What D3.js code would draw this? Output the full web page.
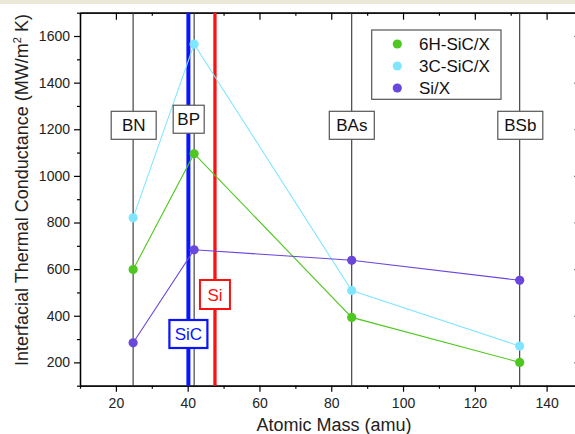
<!DOCTYPE html>
<html>
<head>
<meta charset="utf-8">
<script src="https://cdn.jsdelivr.net/npm/d3@7/dist/d3.min.js"></script>
<style>
  body { margin: 0; background: #fff; }
  svg { display: block; font-family: "Liberation Sans", Arial, sans-serif; }
  .tick text { font-size: 14px; fill: #222; }
  .axis-label { font-size: 18px; fill: #222; }
</style>
</head>
<body>
<svg width="575" height="434"></svg>
<script>
// compounds X and their atomic mass
const compounds = ['BN', 'BP', 'BAs', 'BSb'];
const atomicMass = [24.8, 41.8, 85.7, 132.5];

// interfacial thermal conductance (MW/m2 K)
const sic6h = [598, 1095, 393, 200];
const sic3c = [820, 1565, 508, 270];
const siX = [284, 683, 638, 552];

const seriesNames = ['6H-SiC/X', '3C-SiC/X', 'Si/X'];
const seriesColors = ['#4ec81e', '#80e6ff', '#6a47dc'];

// substrates
const substrates = ['SiC', 'Si'];
const substrateMass = [40.2, 47.6];
const substrateColors = ['#0a14ff', '#ff1010'];

const xTicks = [20, 40, 60, 80, 100, 120, 140];
const yTicks = [200, 400, 600, 800, 1000, 1200, 1400, 1600];

const svg = d3.select('svg');

const xScale = d3.scaleLinear().domain([10, 150]).range([80, 582.5]);
const yScale = d3.scaleLinear().domain([100, 1700]).range([385.7, 12.7]);

// top strip of the window
svg.append('rect').attr('x', 0).attr('y', 0).attr('width', 575).attr('height', 4)
    .attr('fill', '#ebe8d8');

const x0 = xScale.range()[0], x1 = xScale.range()[1];
const y0 = yScale.range()[0], y1 = yScale.range()[1];

// axes with minor ticks
const minorX = d3.range(10, 151, 10).filter(v => !xTicks.includes(v));
const minorY = d3.range(100, 1701, 100).filter(v => !yTicks.includes(v));

const drawAxis = (axis, transform) => {
    const g = svg.append('g').attr('transform', transform).call(axis);
    g.select('.domain').attr('stroke', '#000').attr('stroke-width', 1.3);
    g.selectAll('.tick line').attr('stroke', '#000').attr('stroke-width', 1.2);
    return g;
};
const fmt = d3.format('d');

drawAxis(d3.axisBottom(xScale).tickValues(xTicks).tickSize(6).tickPadding(6).tickFormat(fmt).tickSizeOuter(0), `translate(0,${y0})`);
drawAxis(d3.axisBottom(xScale).tickValues(minorX).tickSize(3).tickFormat('').tickSizeOuter(0), `translate(0,${y0})`);
drawAxis(d3.axisTop(xScale).tickValues(xTicks).tickSize(-7).tickFormat('').tickSizeOuter(0), `translate(0,${y1})`);
drawAxis(d3.axisTop(xScale).tickValues(minorX).tickSize(-3).tickFormat('').tickSizeOuter(0), `translate(0,${y1})`);
drawAxis(d3.axisLeft(yScale).tickValues(yTicks).tickSize(6).tickPadding(4).tickFormat(fmt).tickSizeOuter(0), `translate(${x0},0)`);
drawAxis(d3.axisLeft(yScale).tickValues(minorY).tickSize(3).tickFormat('').tickSizeOuter(0), `translate(${x0},0)`);
drawAxis(d3.axisRight(yScale).tickValues(yTicks).tickSize(-8).tickFormat('').tickSizeOuter(0), `translate(${x1},0)`);
drawAxis(d3.axisRight(yScale).tickValues(minorY).tickSize(-3).tickFormat('').tickSizeOuter(0), `translate(${x1},0)`);

// compound marker lines
svg.append('g').selectAll('line').data(atomicMass).enter().append('line')
    .attr('x1', d => xScale(d)).attr('x2', d => xScale(d))
    .attr('y1', y1).attr('y2', y0)
    .attr('stroke', '#333').attr('stroke-width', 1.1);

// substrate lines
svg.append('g').selectAll('line').data(substrateMass).enter().append('line')
    .attr('x1', d => xScale(d)).attr('x2', d => xScale(d))
    .attr('y1', y1).attr('y2', y0)
    .attr('stroke', (d, i) => substrateColors[i])
    .attr('stroke-width', (d, i) => i === 0 ? 4 : 3.3);

// data series
const allSeries = [sic6h, sic3c, siX];
const line = d3.line().x((d, i) => xScale(atomicMass[i])).y(d => yScale(d));

allSeries.forEach((values, s) => {
    svg.append('path').datum(values)
        .attr('d', line)
        .attr('fill', 'none')
        .attr('stroke', seriesColors[s])
        .attr('stroke-width', 1.1);
});
allSeries.forEach((values, s) => {
    svg.append('g').selectAll('circle').data(values).enter().append('circle')
        .attr('cx', (d, i) => xScale(atomicMass[i]))
        .attr('cy', d => yScale(d))
        .attr('r', 4.6)
        .attr('fill', seriesColors[s]);
});

// compound label boxes
const compoundBox = [
    { cx: 133.7, v: 1217, w: 45 },
    { cx: 188.7, v: 1243, w: 31 },
    { cx: 351.8, v: 1217, w: 45 },
    { cx: 520.3, v: 1217, w: 45 }
];
const labelBox = (cx, cy, w, h, text, color, strokeW) => {
    svg.append('rect')
        .attr('x', cx - w / 2).attr('y', cy - h / 2)
        .attr('width', w).attr('height', h)
        .attr('fill', '#fff').attr('stroke', color).attr('stroke-width', strokeW);
    svg.append('text')
        .attr('x', cx).attr('y', cy + 6)
        .attr('text-anchor', 'middle')
        .attr('font-size', 17)
        .attr('fill', color === '#555' ? '#111' : color)
        .text(text);
};
compounds.forEach((c, i) => {
    const b = compoundBox[i];
    labelBox(b.cx, yScale(b.v), b.w, 28, c, '#555', 1.2);
});
labelBox(xScale(substrateMass[1]), 294.5, 30, 29, substrates[1], substrateColors[1], 2);
labelBox(xScale(substrateMass[0]), 334, 38, 28, substrates[0], substrateColors[0], 2.2);

// legend
const legend = svg.append('g').attr('transform', 'translate(371.7,30)');
legend.append('rect').attr('width', 129.3).attr('height', 69.3)
    .attr('fill', '#fff').attr('stroke', '#555').attr('stroke-width', 1.2);
seriesNames.forEach((name, i) => {
    legend.append('circle').attr('cx', 25.6).attr('cy', 14 + i * 22).attr('r', 4.6)
        .attr('fill', seriesColors[i]);
    legend.append('text').attr('x', 47.3).attr('y', 20 + i * 22)
        .attr('font-size', 17).attr('fill', '#111').text(name);
});

// axis titles
svg.append('text').attr('class', 'axis-label')
    .attr('x', 334).attr('y', 431)
    .attr('text-anchor', 'middle')
    .text('Atomic Mass (amu)');

const yTitle = svg.append('text').attr('class', 'axis-label')
    .attr('transform', 'translate(28,190) rotate(-90)')
    .attr('text-anchor', 'middle');
yTitle.append('tspan').text('Interfacial Thermal Conductance (MW/m');
yTitle.append('tspan').attr('font-size', 11).attr('dy', -7).text('2');
yTitle.append('tspan').attr('dy', 7).text(' K)');
</script>
</body>
</html>
